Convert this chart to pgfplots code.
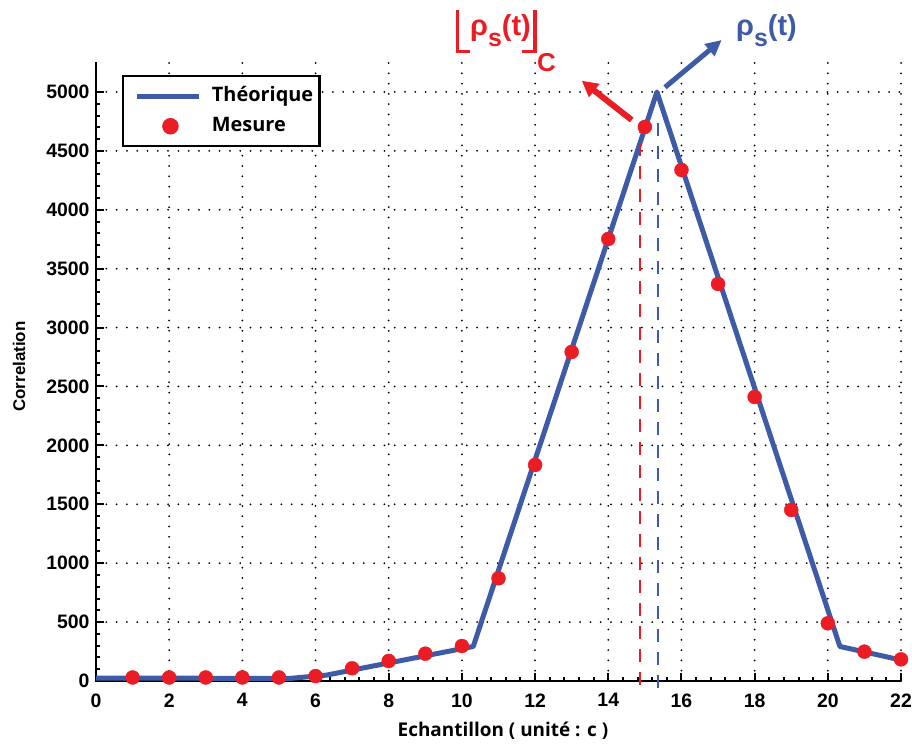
\documentclass[border=0pt]{standalone}
\usepackage{fontspec}
\setmainfont{Liberation Sans}
\newfontfamily\xlabfont{Open Sans}
\usepackage{pgfplots}
\pgfplotsset{compat=1.18}
\usetikzlibrary{arrows.meta}
\definecolor{lblue}{RGB}{62,91,168}
\definecolor{mred}{RGB}{236,28,36}
\begin{document}
\begin{tikzpicture}
\useasboundingbox (-96bp,-65bp) rectangle (816bp,681bp);
\begin{axis}[
  at={(0,0)}, anchor=south west,
  scale only axis, width=805bp, height=618.5bp,
  xmin=0, xmax=22, ymin=0, ymax=5250,
  clip=false,
  axis lines=left,
  axis line style={-, line width=2.5bp, black},
  xtick={0,2,...,22}, ytick={0,500,...,5000},
  minor x tick num=4, minor y tick num=4,
  tick align=inside,
  major tick length=8bp, minor tick length=4bp,
  every tick/.style={line width=2bp, black},
  grid=major,
  major grid style={black, line width=2bp, line cap=round, dash pattern=on 0bp off 10.3bp},
  ticklabel style={font=\fontsize{19.5}{22}\selectfont\bfseries},
  /pgf/number format/assume math mode=true,
  /pgf/number format/1000 sep={},
  xticklabel style={yshift=-9bp},
  yticklabel style={xshift=-3bp},
  xlabel={Echantillon ( unité : c )},
  xlabel style={font=\xlabfont\fontsize{19}{22}\selectfont\bfseries, at={(axis description cs:0.5056,-0.0905)}, anchor=base},
  ylabel={Correlation},
  ylabel style={font=\fontsize{17}{20}\selectfont\bfseries, at={(axis description cs:-0.0957,0.5085)}, anchor=center},
  legend style={at={(axis description cs:0.0319,0.9798)}, anchor=north west,
    draw=black, line width=2.5bp, inner xsep=6bp, inner ysep=10bp,
    font=\xlabfont\fontsize{20}{22}\selectfont\bfseries,
    nodes={inner sep=0bp, text height=15bp, text depth=5bp},
    row sep=10bp, column sep=10bp},
  legend cell align=left,
]
\addplot[lblue, line width=5bp, line join=round,
  legend image code/.code={\path (-6bp,0bp); \draw[lblue, line width=5bp] (0bp,0bp) -- (62bp,0bp);}]
  coordinates {(0,25) (5.3,22) (6.3,50) (10.31,293) (15.33,5000) (20.33,293) (22,178)};
\addlegendentry{Théorique}
\addplot[only marks, mark=*, mark size=7bp, mred, mark options={fill=mred, draw=mred},
  legend image code/.code={\path (-6bp,0bp) (62bp,0bp); \fill[mred] (33bp,0bp) circle (7bp);}]
  coordinates {(1,30) (2,30) (3,30) (4,30) (5,30) (6,42) (7,108) (8,170) (9,232) (10,297)
  (11,872) (12,1834) (13,2793) (14,3752) (15,4703) (16,4338) (17,3370) (18,2411)
  (19,1452) (20,490) (21,249) (22,184)};
\addlegendentry{Mesure}
\addplot[mred, line width=2.5bp, dash pattern=on 13bp off 10bp, forget plot]
  coordinates {(14.87,-34) (14.87,4662)};
\addplot[lblue, line width=2.5bp, dash pattern=on 13bp off 10bp, forget plot]
  coordinates {(15.36,-60) (15.36,4777)};
\end{axis}
% annotations (pixel (px,py) -> (px-96, 681-py) bp)
\draw[mred, line width=6bp, -{Triangle[length=16bp,width=16bp]}] (535.7bp,561bp) -- (485.7bp,600.3bp);
\draw[lblue, line width=5bp, -{Triangle[length=16bp,width=15bp]}] (569bp,593.7bp) -- (625.7bp,641bp);
\node[anchor=base west, inner sep=0bp, text=lblue] at (640bp,645bp)
  {\fontsize{29}{30}\selectfont\bfseries ρ\raisebox{-11bp}{\fontsize{25}{26}\selectfont s}(t)};
\node[anchor=base west, inner sep=0bp, text=mred] at (374bp,645bp)
  {\fontsize{29}{30}\selectfont\bfseries ρ\raisebox{-11bp}{\fontsize{25}{26}\selectfont s}(t)};
\draw[mred, line width=3.2bp] (361.3bp,671bp) -- (361.3bp,629.3bp) -- (374bp,629.3bp);
\draw[mred, line width=3.2bp] (425.7bp,629.3bp) -- (439bp,629.3bp) -- (439bp,671bp);
\node[anchor=base west, inner sep=0bp, text=mred] at (441bp,609bp)
  {\fontsize{26}{28}\selectfont\bfseries C};
\end{tikzpicture}
\end{document}
